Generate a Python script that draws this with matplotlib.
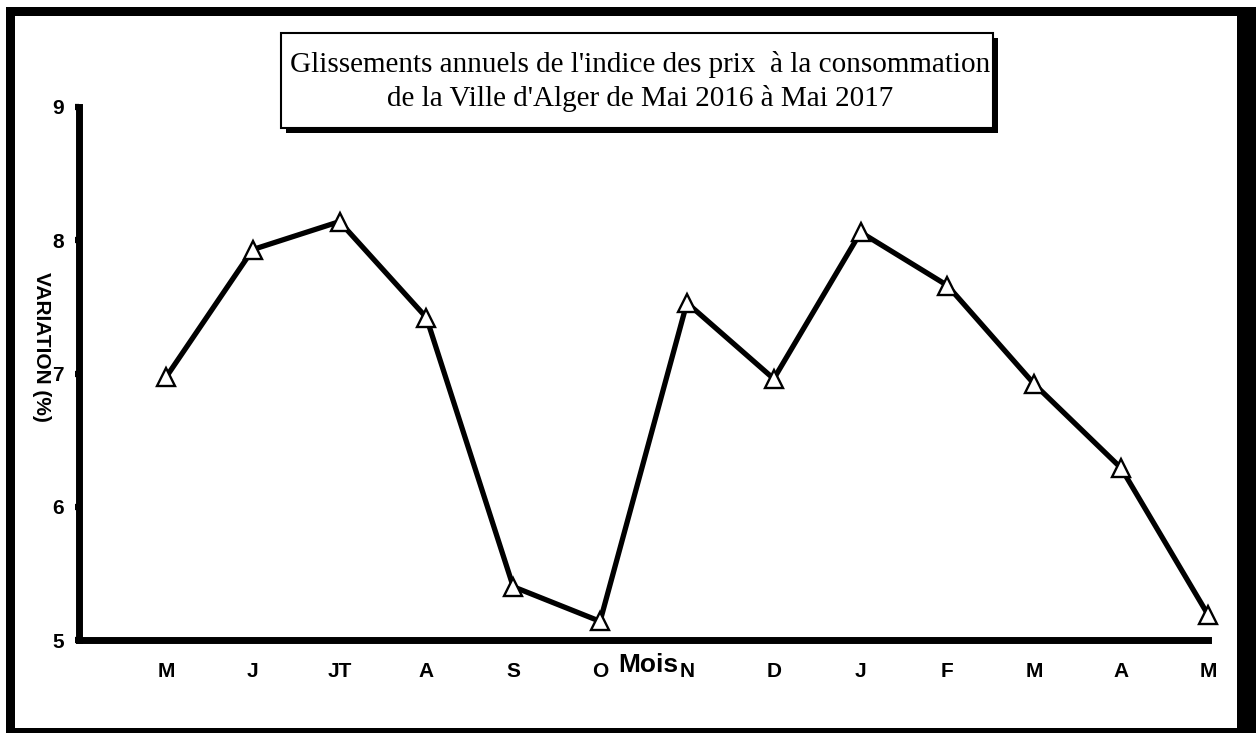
import matplotlib
matplotlib.use("Agg")
import matplotlib.pyplot as plt
from matplotlib.patches import Rectangle

months = ["M", "J", "JT", "A", "S", "O", "N", "D", "J", "F", "M", "A", "M"]
variation = [6.97, 7.93, 8.14, 7.42, 5.40, 5.14, 7.53, 6.96, 8.06, 7.66, 6.92, 6.29, 5.19]
y_ticks = [5, 6, 7, 8, 9]
title_lines = ["Glissements annuels de l'indice des prix  à la consommation",
               "de la Ville d'Alger de Mai 2016 à Mai 2017"]

W, H = 1256, 733
fig = plt.figure(figsize=(W / 100, H / 100), dpi=100)


def px_rect(x0, y0, x1, y1, **kw):
    # pixel coords with y from top
    return Rectangle((x0 / W, 1 - y1 / H), (x1 - x0) / W, (y1 - y0) / H,
                     transform=fig.transFigure, **kw)


# Outer frame
for r in [(6, 7, 15, 728), (6, 7, 1237, 16), (1237, 7, 1256, 733), (6, 728, 1256, 733)]:
    fig.patches.append(px_rect(*r, facecolor="black", edgecolor="none", zorder=0))

ax = fig.add_axes([79 / W, 1 - 640 / H, (1208 - 79) / W, (640 - 107) / H])
x = list(range(1, len(months) + 1))
ax.plot(x, variation, color="black", lw=3.8, marker="^", ms=13.5,
        mfc="white", mec="black", mew=1.7, clip_on=False, zorder=5)
ax.set_xlim(0, 13)
ax.set_ylim(5, 9)
ax.set_xticks(x)
ax.set_xticklabels(months)
ax.set_yticks(y_ticks)
ax.set_yticklabels([str(v) for v in y_ticks])
for s in ["top", "right"]:
    ax.spines[s].set_visible(False)
for s in ["left", "bottom"]:
    ax.spines[s].set_linewidth(5)
    ax.spines[s].set_capstyle("projecting")
ax.tick_params(axis="y", direction="out", length=3, width=4.5, pad=8,
               labelsize=15)
ax.tick_params(axis="x", direction="out", length=2.5, width=4.5, pad=13,
               labelsize=15)
for lab in ax.get_xticklabels() + ax.get_yticklabels():
    lab.set_fontfamily("Liberation Sans")
    lab.set_fontweight("bold")

# Axis labels
fig.text(648 / W, 1 - 665 / H, "Mois", ha="center", va="center",
         fontsize=19, fontweight="bold", family="Liberation Sans")
fig.text(41 / W, 1 - 347 / H, "VARIATION (%)", ha="center", va="center",
         rotation=-90, fontsize=15, fontweight="bold", family="Liberation Sans")

# Title box with shadow
fig.patches.append(px_rect(286, 38, 998, 133, facecolor="black", edgecolor="none", zorder=1))
fig.patches.append(px_rect(281, 33, 993, 128, facecolor="white", edgecolor="black",
                           lw=1.5, zorder=2))
fig.text(640 / W, 1 - 65 / H, title_lines[0], ha="center", va="center",
         fontsize=21, family="Liberation Serif", zorder=3)
fig.text(640 / W, 1 - 99 / H, title_lines[1], ha="center", va="center",
         fontsize=21, family="Liberation Serif", zorder=3)

fig.savefig("out.png", dpi=100)
